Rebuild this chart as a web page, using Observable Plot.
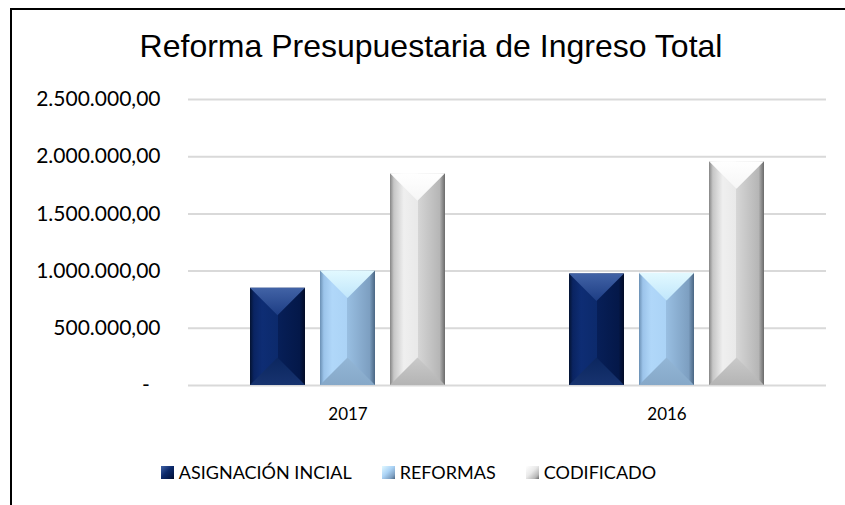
<!DOCTYPE html>
<html><head><meta charset="utf-8">
<script src="https://cdn.jsdelivr.net/npm/d3@7"></script>
<script src="https://cdn.jsdelivr.net/npm/@observablehq/plot@0.6"></script>
<style>
body{margin:0;background:#fff;width:845px;height:505px;overflow:hidden;position:relative;font-family:Lato,"Open Sans",sans-serif;}
#frame{position:absolute;left:10px;top:8px;width:900px;height:600px;border-top:2.5px solid #000;border-left:2.5px solid #000;}
#title{position:absolute;left:0;width:862px;top:30px;text-align:center;font-family:"Liberation Sans",Arial,sans-serif;font-size:32px;line-height:1;color:#000;}
#chart{position:absolute;left:0;top:80px;}
#legend{position:absolute;top:461px;left:0;width:817px;display:flex;justify-content:center;align-items:center;gap:30px;font-size:18px;color:#000;}
#legend .it{display:flex;align-items:center;gap:5px;}
#legend .sw{width:13px;height:13px;}
</style></head>
<body>
<div id="frame"></div>
<div id="title">Reforma Presupuestaria de Ingreso Total</div>
<div id="chart"></div>
<div id="legend"></div>
<script>
const years = ["2017", "2016"];
const series = ["ASIGNACIÓN INCIAL", "REFORMAS", "CODIFICADO"];
const asignacion = [850000, 975000];
const reformas = [1000000, 980000];
const codificado = [1850000, 1955000];
const yTicks = [0, 500000, 1000000, 1500000, 2000000, 2500000];

const values = [asignacion, reformas, codificado];
const data = years.flatMap((yr, i) => series.map((s, j) => ({year: yr, series: s, k: j, value: values[j][i]})));

const es = d3.formatLocale({decimal: ",", thousands: ".", grouping: [3], currency: ["", ""]});
const fmt = es.format(",.2f");
const tickFormat = d => d === 0 ? "-\u00a0\u00a0" : fmt(d);

const sideStops = [
  [[0,"#041331"],[0.07,"#0a2462"],[0.22,"#0e2d74"],[0.5,"#0c2a6c"],[0.5,"#071f58"],[0.9,"#041849"],[1,"#020b26"]],
  [[0,"#6a8fb3"],[0.07,"#9cc4ea"],[0.22,"#b0d7f9"],[0.5,"#abd3f6"],[0.5,"#98bee1"],[0.9,"#7d9fc1"],[1,"#4a6683"]],
  [[0,"#858585"],[0.07,"#c6c6c6"],[0.25,"#efefef"],[0.5,"#e9e9e9"],[0.5,"#d6d6d6"],[0.9,"#b6b6b6"],[1,"#6a6a6a"]]
];
const topStops = [
  [[0,"#4263a6"],[1,"#1d3d84"]],
  [[0,"#e2f9ff"],[1,"#c0e6fb"]],
  [[0,"#ffffff"],[1,"#f6f6f6"]]
];
const botStops = [
  [[0,"#0b265f"],[1,"#17336f"]],
  [[0,"#93b6d6"],[1,"#86a8c8"]],
  [[0,"#cacaca"],[1,"#b4b4b4"]]
];

const NS = "http://www.w3.org/2000/svg";
function el(name, attrs) {
  const e = document.createElementNS(NS, name);
  for (const k in attrs) e.setAttribute(k, attrs[k]);
  return e;
}

function bevel(index, scales, vals, dims, ctx, next) {
  const g = next(index, scales, vals, dims, ctx);
  const rects = Array.from(g.querySelectorAll("rect"));
  rects.forEach((r, n) => {
    const d = data[index[n]];
    const x = +r.getAttribute("x"), y = +r.getAttribute("y");
    const w = +r.getAttribute("width"), h = +r.getAttribute("height");
    r.setAttribute("fill", `url(#side${d.k})`);
    const b = Math.min(w / 2, h / 2);
    const top = el("polygon", {points: `${x},${y} ${x + w},${y} ${x + w / 2},${y + b}`, fill: `url(#top${d.k})`});
    const bot = el("polygon", {points: `${x},${y + h} ${x + w},${y + h} ${x + w / 2},${y + h - b}`, fill: `url(#bot${d.k})`});
    r.after(top, bot);
  });
  return g;
}

const plot = Plot.plot({
  width: 845,
  height: 380,
  marginLeft: 188,
  marginRight: 19,
  marginTop: 19,
  marginBottom: 75,
  style: {fontFamily: "Lato, 'Open Sans', sans-serif", fontSize: "21px", color: "#000", background: "transparent"},
  fx: {domain: years, padding: 0, label: null},
  x: {domain: series, axis: null, paddingInner: 0.22, paddingOuter: 0.8725, align: 0.5},
  y: {domain: [0, 2500000], label: null},
  marks: [
    Plot.gridY(yTicks, {stroke: "#d9d9d9", strokeOpacity: 1, strokeWidth: 2}),
    Plot.axisY(yTicks, {tickSize: 0, tickPadding: 28, tickFormat, label: null, fontSize: 21}),
    Plot.axisFx({anchor: "bottom", tickSize: 0, tickPadding: 22, label: null, fontSize: 17}),
    Plot.barY(data, {fx: "year", x: "series", y: "value", fill: "#000", render: bevel})
  ]
});

const defs = el("defs", {});
function grad(id, stops, vertical) {
  const lg = el("linearGradient", vertical ? {id, x1: 0, y1: 0, x2: 0, y2: 1} : {id, x1: 0, y1: 0, x2: 1, y2: 0});
  stops.forEach(([o, c]) => lg.appendChild(el("stop", {offset: o, "stop-color": c})));
  defs.appendChild(lg);
}
series.forEach((s, k) => {
  grad(`side${k}`, sideStops[k], false);
  grad(`top${k}`, topStops[k], true);
  grad(`bot${k}`, botStops[k], true);
});
plot.insertBefore(defs, plot.firstChild);
document.getElementById("chart").appendChild(plot);

const legend = document.getElementById("legend");
series.forEach((s, k) => {
  const it = document.createElement("div");
  it.className = "it";
  const sw = document.createElement("div");
  sw.className = "sw";
  const st = sideStops[k];
  sw.style.background = `linear-gradient(135deg, ${topStops[k][0][1]} 0%, ${st[3][1]} 45%, ${st[5][1]} 80%, ${st[6][1]} 100%)`;
  const t = document.createElement("span");
  t.textContent = s;
  it.append(sw, t);
  legend.appendChild(it);
});
</script>
</body></html>
